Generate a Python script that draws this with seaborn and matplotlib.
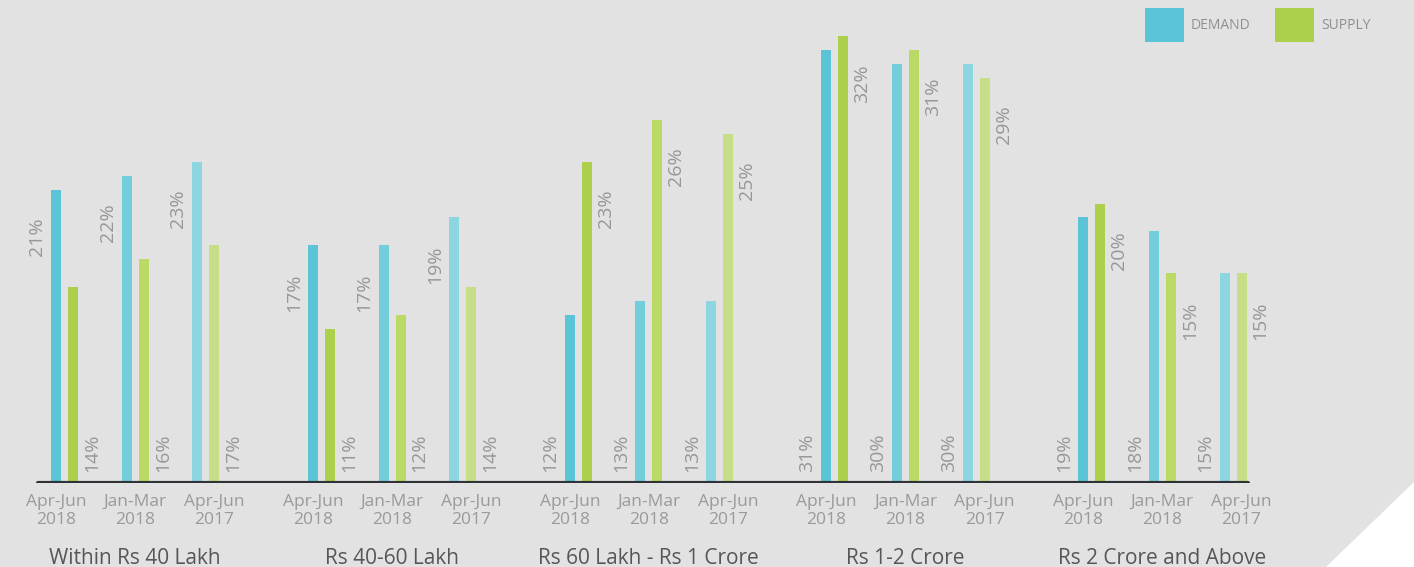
import numpy as np
import pandas as pd
import matplotlib
matplotlib.use("Agg")
import matplotlib.pyplot as plt
import seaborn as sns
from matplotlib.patches import Rectangle, Polygon
from matplotlib.transforms import blended_transform_factory

# ---------------- data ----------------
groups = ["Within Rs 40 Lakh", "Rs 40-60 Lakh", "Rs 60 Lakh - Rs 1 Crore",
          "Rs 1-2 Crore", "Rs 2 Crore and Above"]
periods = ["Apr-Jun\n2018", "Jan-Mar\n2018", "Apr-Jun\n2017"]
demand = [[21, 22, 23], [17, 17, 19], [12, 13, 13], [31, 30, 30], [19, 18, 15]]
supply = [[14, 16, 17], [11, 12, 14], [23, 26, 25], [32, 31, 29], [20, 15, 15]]
series_names = ["DEMAND", "SUPPLY"]
# which series gets its value label near the bar top, per group
top_label_series = ["DEMAND", "DEMAND", "SUPPLY", "SUPPLY", "SUPPLY"]

# ---------------- style ----------------
BG = "#e1e2e1"
series_colors = {
    "DEMAND": ["#5bc4d6", "#74cddb", "#8dd6e1"],
    "SUPPLY": ["#acd04b", "#bada65", "#c6df86"],
}
LABEL_C = "#979797"
TICK_C = "#9a9a9a"
GROUP_C = "#555757"

W, H = 1414, 567
sns.set_theme(style="white", rc={"figure.facecolor": BG, "axes.facecolor": BG,
                                 "savefig.facecolor": BG})
plt.rcParams["font.family"] = ["Open Sans", "DejaVu Sans"]

fig = plt.figure(figsize=(W / 100, H / 100), dpi=100)
base_px = 482.5
px_per_unit = 13.95
ax = fig.add_axes([0, (H - base_px) / H, 1, base_px / H])

# layout (pixel-like x units)
X0, G, P, S = 56, 256.8, 70.7, 17.0

rows = []
for g, grp in enumerate(groups):
    for p, per in enumerate(periods):
        for s, name in enumerate(series_names):
            val = (demand if s == 0 else supply)[g][p]
            rows.append({"group": grp, "period": per, "series": name,
                         "value": val, "x": X0 + g * G + p * P + s * S,
                         "key": f"{name}{p}"})
df = pd.DataFrame(rows)
palette = {f"{n}{p}": series_colors[n][p] for n in series_names for p in range(3)}

sns.barplot(data=df, x="x", y="value", hue="key", palette=palette,
            native_scale=True, dodge=False, width=10.0 / S, saturation=1,
            errorbar=None, legend=False, linewidth=0, ax=ax)

ax.set_xlim(0, W)
ax.set_ylim(0, base_px / px_per_unit)
ax.axis("off")
ax.axhline(0, xmin=38 / W, xmax=1248 / W, color="#2f3338", lw=3.0, zorder=5)

# value labels
off_x = 19.0
for _, r in df.iterrows():
    g = groups.index(r["group"])
    is_top = r["series"] == top_label_series[g]
    lx = r["x"] - off_x if r["series"] == "DEMAND" else r["x"] + off_x
    txt = f"{r['value']}%"
    if is_top:
        ax.text(lx, r["value"] - 2.0, txt, rotation=90, ha="center", va="top",
                fontsize=14, color=LABEL_C)
    else:
        ax.text(lx, 0.75, txt, rotation=90, ha="center", va="bottom",
                fontsize=14, color=LABEL_C)

# period tick labels and group labels
tr = blended_transform_factory(ax.transData, fig.transFigure)
tick_step = 79.0
for g, grp in enumerate(groups):
    center = X0 + g * G + P + S / 2
    for p, per in enumerate(periods):
        ax.text(center + (p - 1) * tick_step, (H - 511) / H, per, transform=tr,
                ha="center", va="center", fontsize=12.5, color=TICK_C,
                linespacing=1.2)
    ax.text(center, (H - 563.5) / H, grp, transform=tr, ha="center",
            va="baseline", fontsize=15, color=GROUP_C)

# legend
def px_rect(x0, y0, x1, y1, color):
    fig.patches.append(Rectangle((x0 / W, 1 - y1 / H), (x1 - x0) / W,
                                 (y1 - y0) / H, transform=fig.transFigure,
                                 facecolor=color, edgecolor="none"))

px_rect(1145, 8, 1184, 42, series_colors["DEMAND"][0])
fig.text(1191 / W, 1 - 25.5 / H, "DEMAND", ha="left", va="center",
         fontsize=10, color="#8f8f8f")
px_rect(1275, 8, 1314, 42, series_colors["SUPPLY"][0])
fig.text(1321 / W, 1 - 25.5 / H, "SUPPLY", ha="left", va="center",
         fontsize=10, color="#8f8f8f")

# white corner decoration
fig.patches.append(Polygon([(1414 / W, 1 - 482 / H), (1, 0), (1326 / W, 0)],
                           closed=True, transform=fig.transFigure,
                           facecolor="white", edgecolor="none"))

fig.savefig("out.png", dpi=100, facecolor=BG)
